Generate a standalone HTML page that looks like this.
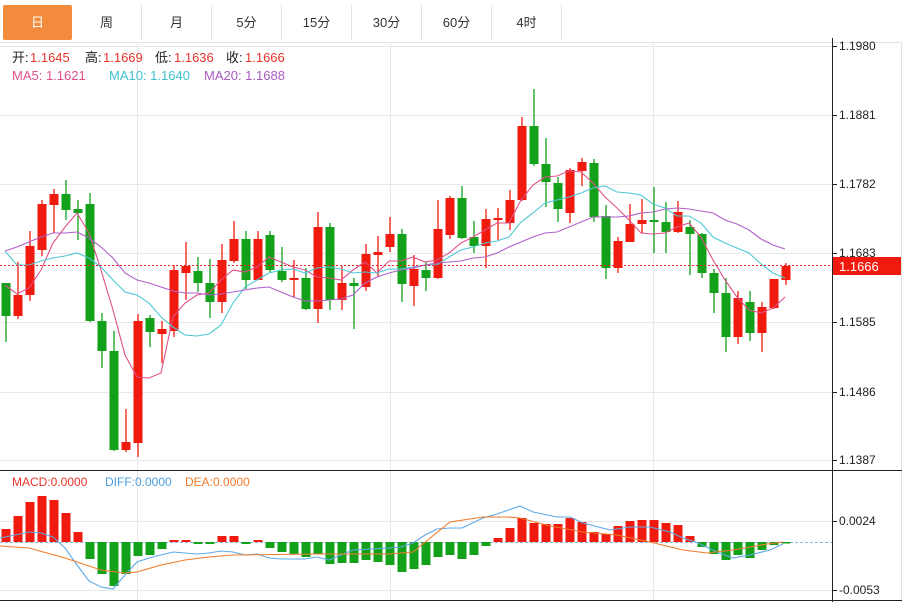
<!DOCTYPE html>
<html><head><meta charset="utf-8">
<style>
body{margin:0;background:#fff;font-family:"Liberation Sans","Noto Sans CJK SC",sans-serif;}
#w{position:relative;width:913px;height:602px;overflow:hidden;background:#fff;}
.tab{position:absolute;top:5px;height:35px;width:70px;line-height:35px;text-align:center;font-size:13px;color:#333;border-right:1px solid #e3e3e3;box-sizing:border-box;}
svg{position:absolute;left:0;top:0;}
</style></head><body>
<div id="w">
<div class="tab" style="left:3px;width:69px;background:#f28b3b;color:#fff;border-radius:2px;border:none">日</div>
<div class="tab" style="left:72px">周</div>
<div class="tab" style="left:142px">月</div>
<div class="tab" style="left:212px">5分</div>
<div class="tab" style="left:282px">15分</div>
<div class="tab" style="left:352px">30分</div>
<div class="tab" style="left:422px">60分</div>
<div class="tab" style="left:492px">4时</div>
<svg id="s" width="913" height="602" xmlns="http://www.w3.org/2000/svg"></svg>
</div>
<script>
var s=document.getElementById('s'),h='';
function L(x1,y1,x2,y2,c,w,d){h+='<line x1="'+x1+'" y1="'+y1+'" x2="'+x2+'" y2="'+y2+'" stroke="'+c+'" stroke-width="'+(w||1)+'"'+(d?' stroke-dasharray="'+d+'"':'')+'/>';}
function T(x,y,t,c,sz){h+='<text x="'+x+'" y="'+y+'" fill="'+c+'" font-size="'+(sz||12)+'" font-family="Liberation Sans,Noto Sans CJK SC,sans-serif">'+t+'</text>';}
L(0,42.5,902,42.5,'#e3e3e3');
L(901.5,42,901.5,602,'#e3e3e3');
[46,115,184,253,322,392,460].forEach(function(y){L(0,y+.5,832,y+.5,'#e8e8e8');});
[521,590].forEach(function(y){L(0,y+.5,832,y+.5,'#e8e8e8');});
[137,390,653].forEach(function(x){L(x+.5,42,x+.5,602,'#e8e8e8');});
L(0,470.5,902,470.5,'#222');L(0,600.5,902,600.5,'#222');
L(832.5,38,832.5,602,'#222');
var yl=[[46,'1.1980'],[115,'1.1881'],[184,'1.1782'],[253,'1.1683'],[322,'1.1585'],[392,'1.1486'],[460,'1.1387']];
yl.forEach(function(a){L(832,a[0]+.5,837,a[0]+.5,'#222');T(839,a[0]+4,a[1],'#222',12);});
L(832,521.5,837,521.5,'#222');T(839,525,'0.0024','#222',12);
L(832,590.5,837,590.5,'#222');T(839,594,'-0.0053','#222',12);
var C=[[283,316,283,342,'g'],[295,316,262,319,'r'],[246,295,231,301,'r'],[204,250,200,256,'r'],[194,205,189,233,'r'],[194,210,180,220,'g'],[209,213,200,240,'g'],[204,321,193,322,'g'],[321,351,313,368,'g'],[351,450,331,451,'g'],[442,450,409,452,'r'],[321,443,314,457,'r'],[318,332,315,347,'g'],[329,334,321,363,'r'],[270,331,265,337,'r'],[266,273,242,300,'r'],[271,283,257,292,'g'],[283,302,259,318,'g'],[260,302,244,313,'r'],[239,261,221,263,'r'],[239,280,231,289,'g'],[239,280,231,280,'r'],[235,270,231,272,'g'],[271,280,247,282,'g'],[278,280,260,297,'r'],[278,309,268,310,'g'],[227,309,212,323,'r'],[227,300,223,310,'g'],[283,300,266,310,'r'],[283,286,278,329,'g'],[254,287,244,291,'r'],[252,255,236,277,'r'],[234,247,217,252,'r'],[234,284,229,302,'g'],[269,286,255,306,'r'],[270,278,262,291,'g'],[229,278,200,279,'r'],[198,235,196,239,'r'],[198,238,186,239,'g'],[237,246,221,253,'g'],[219,246,209,268,'r'],[218,220,208,240,'r'],[200,223,190,230,'r'],[126,200,117,201,'r'],[126,164,89,166,'g'],[164,182,138,207,'g'],[183,209,177,222,'g'],[170,213,168,223,'r'],[162,171,158,186,'r'],[163,217,159,222,'g'],[216,268,205,279,'g'],[241,268,237,273,'r'],[224,242,204,242,'r'],[220,224,199,233,'r'],[220,222,187,253,'g'],[222,232,202,253,'g'],[212,232,201,233,'r'],[227,234,220,275,'g'],[234,273,233,278,'g'],[273,293,269,313,'g'],[293,337,278,352,'g'],[298,337,291,344,'r'],[302,333,291,341,'g'],[307,333,302,352,'r'],[279,308,279,309,'r'],[266,280,263,285,'r']];
var RC='#f01a0e',GC='#13a01a';
C.forEach(function(c,i){var x=6+12*i,col=c[4]=='r'?RC:GC;L(x,c[2],x,c[3],col,1.3);var hh=Math.max(c[1]-c[0],2);h+='<rect x="'+(x-4.5)+'" y="'+c[0]+'" width="9" height="'+hh+'" fill="'+col+'"/>';});
function P(xs,ys,col,w){var p=xs.map(function(x,i){return x+','+ys[i];}).join(' ');h+='<polyline points="'+p+'" fill="none" stroke="'+col+'" stroke-width="'+(w||1.1)+'"/>';}
function seq(n,x0){var a=[];for(var i=0;i<n;i++)a.push(x0+12*i);return a;}
var ma5=[285,294,288,270,243,227,213,233,270,310,355,377,378,373,317,303,295,293,280,270,272,267,257,262,267,270,277,278,280,270,262,273,261,261,257,262,260,253,243,237,230,223,223,200,185,177,176,171,172,183,197,208,220,233,234,233,227,223,237,260,280,297,310,313,308,297];
P(seq(66,5),ma5,'#e0508a');
var ma10=[251,265,265,261,258,256,253,258,267,280,292,295,303,317,327,335,336,334,325,303,287,280,273,270,269,273,268,267,269,273,272,273,269,269,267,265,265,257,250,247,243,241,237,222,213,203,200,197,193,188,186,192,193,195,204,208,216,216,223,237,243,248,253,264,273,278];
P(seq(66,5),ma10,'#4fc8d6');
var ma20=[251,247,242,237,233,233,232,238,247,258,273,280,283,287,291,293,293,295,294,292,290,288,287,292,297,301,301,300,299,295,283,277,273,270,268,265,263,262,261,258,257,253,247,242,237,233,232,227,222,217,217,217,216,213,212,209,208,209,211,213,220,224,230,239,245,249];
P(seq(66,5),ma20,'#b060c8');
L(0,265.5,832,265.5,'#f02020',1,'2,2');
h+='<rect x="833" y="257" width="68" height="18" fill="#f01a0e"/>';T(839,271,'1.1666','#fff',13);
T(12,62,'开:','#222',13);T(30,62,'1.1645','#e8332b',13);T(85,62,'高:','#222',13);T(103,62,'1.1669','#e8332b',13);T(155,62,'低:','#222',13);T(174,62,'1.1636','#e8332b',13);T(226,62,'收:','#222',13);T(245,62,'1.1666','#e8332b',13);
T(12,80,'MA5: 1.1621','#e0508a',13);T(109,80,'MA10: 1.1640','#3fc1cf',13);T(204,80,'MA20: 1.1688','#a95cc0',13);
T(12,486,'MACD:0.0000','#e8332b',12);T(105,486,'DIFF:0.0000','#4a9fe0',12);T(185,486,'DEA:0.0000','#f07b2b',12);
L(0,542.5,832,542.5,'#8ab8e0',1,'3,2');
var M=[529,516,502,496,500,513,532,559,574,586,574,556,555,549,540,540,544,544,536,536,544,540,548,552,554,557,554,564,563,563,560,562,565,572,569,565,557,555,559,555,546,538,528,518,523,524,524,518,522,532,534,526,521,520,520,523,525,536,547,554,560,555,558,550,545,543];
M.forEach(function(y,i){var x=6+12*i;var col=y<542?RC:GC;var t=Math.min(y,542),hh=Math.max(Math.abs(y-542),1.5);h+='<rect x="'+(x-4.5)+'" y="'+t+'" width="9" height="'+hh+'" fill="'+col+'"/>';});
P([0,29,41,53,65,77,89,101,113,125,137,149,161,173,197,209,221,233,245,257,269,281,305,317,329,341,353,389,401,413,425,437,450,462,483,497,520,533,557,570,583,610,630,650,670,683,698,717,733,750,770,783],[538,532,533,537,548,565,581,587,589,575,562,558,555,552,554,553,551,552,555,554,558,559,559,557,560,555,550,548,547,543,535,529,528,528,518,514,506,512,517,517,523,530,527,527,532,538,543,552,558,555,550,544],'#5ea9e6');
P([0,29,65,101,125,137,161,185,209,233,317,353,389,413,450,483,507,520,550,583,617,650,683,707,733,767,783],[546,548,558,570,573,572,565,560,557,555,554,554,554,552,522,517,517,518,526,532,535,542,550,553,550,544,542],'#f07b2b');
s.innerHTML=h;
</script>
</body></html>
